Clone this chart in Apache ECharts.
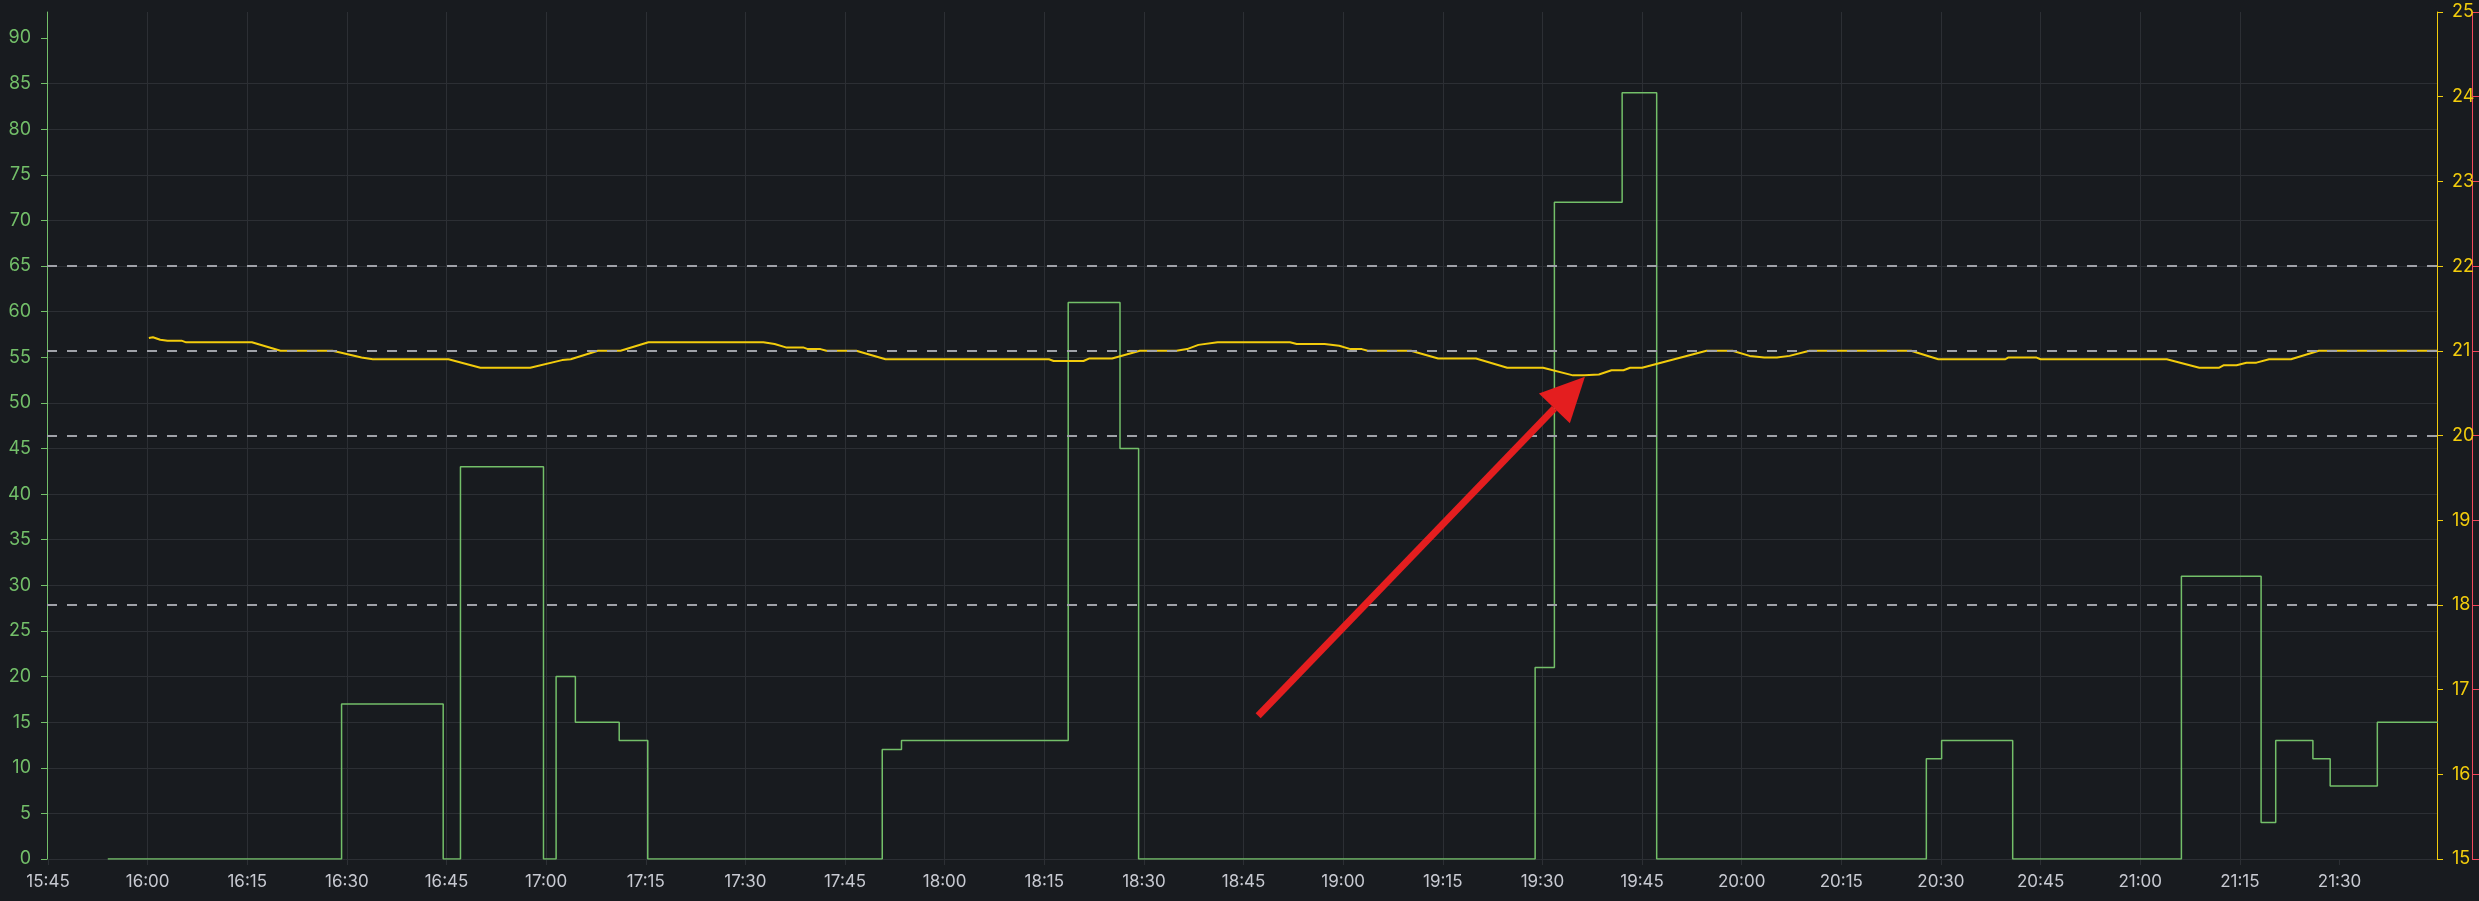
<!DOCTYPE html>
<html>
<head>
<meta charset="utf-8">
<script src="https://cdn.jsdelivr.net/npm/echarts@6/dist/echarts.min.js"></script>
<style>
html,body{margin:0;padding:0;background:#181b1f;}
#c{width:2479px;height:901px;}
</style>
</head>
<body>
<div id="c"></div>
<script>
// ---- data ----
const greenTimes = ['15:54:00','16:29:12','16:44:30','16:47:06','16:59:36','17:01:30','17:04:24','17:11:00','17:15:18',
  '17:50:36','17:53:30','18:18:36','18:26:24','18:29:12','19:28:54','19:31:48','19:42:00','19:47:12',
  '20:27:48','20:30:06','20:40:48','21:06:12','21:18:12','21:20:24','21:26:00','21:28:36','21:35:42','21:44:50'];
const greenValues = [0,17,0,43,0,20,15,13,0,
  12,13,61,45,0,21,72,84,0,
  11,13,0,31,4,13,11,8,15,15];

const tempTimes = ['16:00:11','16:00:48','16:01:54','16:03:00','16:05:06','16:05:48','16:15:42','16:20:00','16:27:48','16:29:00',
  '16:32:12','16:33:54','16:45:18','16:50:06','16:57:36','17:02:24','17:03:42','17:07:48','17:11:12','17:15:24',
  '17:32:42','17:34:24','17:36:06','17:38:42','17:39:24','17:41:18','17:42:12','17:46:42','17:51:06','18:15:42',
  '18:16:24','18:20:54','18:21:48','18:25:12','18:29:24','18:34:54','18:36:30','18:38:12','18:41:06','18:52:00',
  '18:53:00','18:57:12','18:59:24','19:01:06','19:02:48','19:03:42','19:10:12','19:14:18','19:20:00','19:24:42',
  '19:30:06','19:34:36','19:36:18','19:36:36','19:38:30','19:40:24','19:42:12','19:43:12','19:45:00','19:54:42',
  '19:58:36','20:01:12','20:03:24','20:05:18','20:07:12','20:10:12','20:25:30','20:29:36','20:39:42','20:40:06',
  '20:44:24','20:45:00','21:04:00','21:08:54','21:11:54','21:12:36','21:14:30','21:16:00','21:17:30','21:19:24',
  '21:22:42','21:26:54','21:44:48'];
const tempValues = [21.15,21.16,21.13,21.12,21.12,21.10,21.10,21.00,21.00,20.98,
  20.92,20.90,20.90,20.80,20.80,20.89,20.90,21.00,21.00,21.10,
  21.10,21.08,21.04,21.04,21.02,21.02,21.00,21.00,20.90,20.90,
  20.88,20.88,20.91,20.91,21.00,21.00,21.02,21.07,21.10,21.10,
  21.08,21.08,21.06,21.02,21.02,21.00,21.00,20.91,20.91,20.80,
  20.80,20.71,20.71,20.72,20.72,20.77,20.77,20.80,20.80,21.00,
  21.00,20.94,20.92,20.92,20.94,21.00,21.00,20.90,20.90,20.92,
  20.92,20.90,20.90,20.80,20.80,20.83,20.83,20.86,20.86,20.90,
  20.90,21.00,21.00];

const thresholdValues = [18, 20, 21, 22];
const leftAxisTicks = [0,5,10,15,20,25,30,35,40,45,50,55,60,65,70,75,80,85,90];
const xTickLabels = ['15:45','16:00','16:15','16:30','16:45','17:00','17:15','17:30','17:45','18:00','18:15','18:30',
  '18:45','19:00','19:15','19:30','19:45','20:00','20:15','20:30','20:45','21:00','21:15','21:30'];
const arrowTail = ['18:47:12', 15.7];
const arrowHeadBase = ['19:31:48', 49.4];
const xRange = ['15:44:51', '21:44:41'];

// ---- helpers: clock time -> minutes since midnight ----
function tm(s){ const p = s.split(':').map(Number); return p[0]*60 + p[1] + (p[2]||0)/60; }
function pad(n){ return (n<10?'0':'')+n; }
function fmt(v){ const m = Math.round(v); return pad(Math.floor(m/60))+':'+pad(m%60); }
const greenData = greenTimes.map((t,i)=>[tm(t), greenValues[i]]);
const tempData = tempTimes.map((t,i)=>[tm(t), tempValues[i]]);
const xTickValues = xTickLabels.map(tm);

const GRID = '#2c2f34';
const GREEN = '#73bf69';
const YELLOW = '#f2cc0c';
const RED = '#f2495c';
const FONT = 'Inter';

const chart = echarts.init(document.getElementById('c'));
chart.setOption({
  animation: false,
  backgroundColor: '#181b1f',
  textStyle: { fontFamily: FONT },
  grid: { left: 47, right: 42, top: 12, bottom: 42, containLabel: false },
  xAxis: {
    type: 'value',
    min: tm(xRange[0]), max: tm(xRange[1]),
    axisLine: { show: false },
    axisTick: { show: true, length: 6, lineStyle: { color: GRID }, customValues: xTickValues },
    splitLine: { show: true, showMinLine: false, showMaxLine: false, lineStyle: { color: GRID, width: 1 } },
    axisLabel: {
      color: '#c7c9d1', fontSize: 17, fontFamily: FONT, margin: 14, hideOverlap: false,
      customValues: xTickValues,
      formatter: fmt
    }
  },
  yAxis: [
    {
      type: 'value', position: 'left', min: 0, max: 92.85, interval: 5,
      axisLine: { show: true, lineStyle: { color: GREEN, width: 1 } },
      axisTick: { show: true, length: 6, lineStyle: { color: GREEN }, customValues: leftAxisTicks },
      axisLabel: { color: GREEN, fontSize: 18, fontFamily: FONT, margin: 16, customValues: leftAxisTicks },
      splitLine: { show: true, showMaxLine: false, lineStyle: { color: GRID, width: 1 } }
    },
    {
      type: 'value', position: 'right', min: 15, max: 25, interval: 1,
      axisLine: { show: true, lineStyle: { color: YELLOW, width: 1 } },
      axisTick: { show: true, length: 6, lineStyle: { color: YELLOW } },
      axisLabel: { color: YELLOW, fontSize: 18, fontFamily: FONT, margin: 15 },
      splitLine: { show: false }
    },
    {
      type: 'value', position: 'right', offset: 35, min: 15, max: 25, interval: 1,
      axisLine: { show: true, lineStyle: { color: RED, width: 1 } },
      axisTick: { show: true, length: 7, lineStyle: { color: RED } },
      axisLabel: { show: false },
      splitLine: { show: false }
    }
  ],
  series: [
    {
      name: 'green', type: 'line', yAxisIndex: 0, step: 'end', showSymbol: false,
      lineStyle: { color: GREEN, width: 1.5 }, data: greenData, z: 3
    },
    {
      name: 'temp', type: 'line', yAxisIndex: 1, showSymbol: false,
      lineStyle: { color: YELLOW, width: 2 }, data: tempData, z: 4,
      markLine: {
        silent: true, symbol: 'none', label: { show: false },
        lineStyle: { color: '#a0a2a9', width: 2, type: [10, 10] },
        emphasis: { disabled: true },
        data: thresholdValues.map(v => ({ yAxis: v }))
      }
    },
    {
      name: 'arrow', type: 'line', yAxisIndex: 0, data: [], z: 10,
      markLine: {
        silent: true,
        symbol: ['none', 'triangle'],
        symbolSize: [43, 44],
        symbolOffset: [[0, 0], [0, -22]],
        label: { show: false },
        emphasis: { disabled: true },
        lineStyle: { color: '#e41e1f', width: 7, type: 'solid', cap: 'butt', opacity: 1 },
        itemStyle: { color: '#e41e1f' },
        data: [[ { coord: [tm(arrowTail[0]), arrowTail[1]] }, { coord: [tm(arrowHeadBase[0]), arrowHeadBase[1]] } ]]
      }
    }
  ]
});
</script>
</body>
</html>
